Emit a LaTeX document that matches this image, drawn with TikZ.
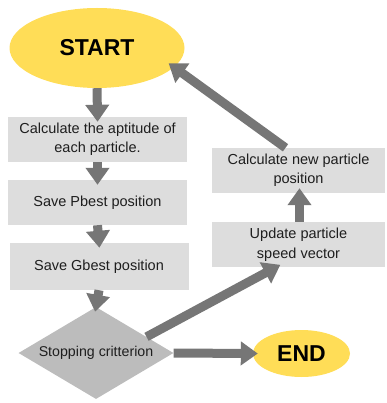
\documentclass[tikz,border=0pt]{standalone}
\usepackage{fontspec}
\setmainfont{Liberation Sans}
\usetikzlibrary{arrows.meta, calc, shapes.geometric, positioning}

\definecolor{psoyellow}{HTML}{FFDD57}
\definecolor{boxgray}{HTML}{DDDDDD}
\definecolor{diagray}{HTML}{BCBCBC}
\definecolor{arrowgray}{HTML}{767676}
\definecolor{txtgray}{HTML}{1E1E1E}

\begin{document}
\begin{tikzpicture}[x=1pt, y=-1pt,
	terminal/.style={ellipse, fill=psoyellow, inner sep=0pt, text=black,
		font=\fontsize{23}{26}\selectfont\bfseries},
	stepbox/.style={rectangle, fill=boxgray, inner sep=0pt, align=center, text=txtgray,
		font=\fontsize{14.5}{19.5}\selectfont},
	decision/.style={diamond, aspect=2, fill=diagray, inner sep=0pt, text=txtgray,
		font=\fontsize{14.2}{18}\selectfont},
	flow/.style={draw=arrowgray, line width=9pt, shorten >=-5pt,
		-{Triangle[width=23pt, length=17pt]}}]
	
	% -------------------------------------------------------------------------
	% 1. 参数
	% -------------------------------------------------------------------------
	\def\Lw{179pt}   % 左列方框宽
	\def\Rw{173pt}   % 右列方框宽
	\def\Bh{45pt}    % 方框高
	
	\useasboundingbox (0,0) rectangle (386,403);
	
	% -------------------------------------------------------------------------
	% 2. 左列：开始与三个步骤
	% -------------------------------------------------------------------------
	\node[terminal, minimum width=175pt, minimum height=80pt] (start) at (97,48) {START};
	
	\node[stepbox, minimum width=\Lw, minimum height=\Bh] (aptitude) at (97.5,139.5)
		{Calculate the aptitude of\\each particle.};
	\node[stepbox, minimum width=\Lw, minimum height=\Bh] (pbest) at (97.5,202.5) {Save Pbest position};
	\node[stepbox, minimum width=\Lw, minimum height=47pt] (gbest) at (99,266.5) {Save Gbest position};
	
	% -------------------------------------------------------------------------
	% 3. 判断与结束
	% -------------------------------------------------------------------------
	\node[decision, minimum width=155pt, minimum height=92pt] (stop) at (96,353) {Stopping critterion};
	\node[terminal, minimum width=97pt, minimum height=47pt] (end) at (301.5,353.5) {END};
	
	% -------------------------------------------------------------------------
	% 4. 右列：更新速度与位置
	% -------------------------------------------------------------------------
	\node[stepbox, minimum width=\Rw, minimum height=\Bh] (speed) at (298.5,244.5)
		{Update particle\\speed vector};
	\node[stepbox, minimum width=\Rw, minimum height=\Bh] (newpos) at (298.5,170.5)
		{Calculate new particle\\position};
	
	% -------------------------------------------------------------------------
	% 5. 箭头
	% -------------------------------------------------------------------------
	\draw[flow] (start.south) -- (aptitude.north);
	\draw[flow] (aptitude.south) -- (pbest.north);
	\draw[flow] (pbest.south) -- (gbest.north);
	\draw[flow] (gbest.south) -- (stop.north);
	\draw[flow] (stop.east) -- (end.west);
	
	% 循环回到开始
	\coordinate (loopOut) at ($(stop.north east)!0.3!(stop.east)$);
	\draw[flow] (loopOut) -- ($(speed.south west)!0.37!(speed.south east)$);
	\draw[flow] ($(speed.north)+(1,0)$) -- ($(newpos.south)+(1,0)$);
	\draw[flow, shorten >=0pt] ($(newpos.north)+(-13,0)$) -- ($(start.center)!0.9!(start.-12)$);
	
\end{tikzpicture}
\end{document}
